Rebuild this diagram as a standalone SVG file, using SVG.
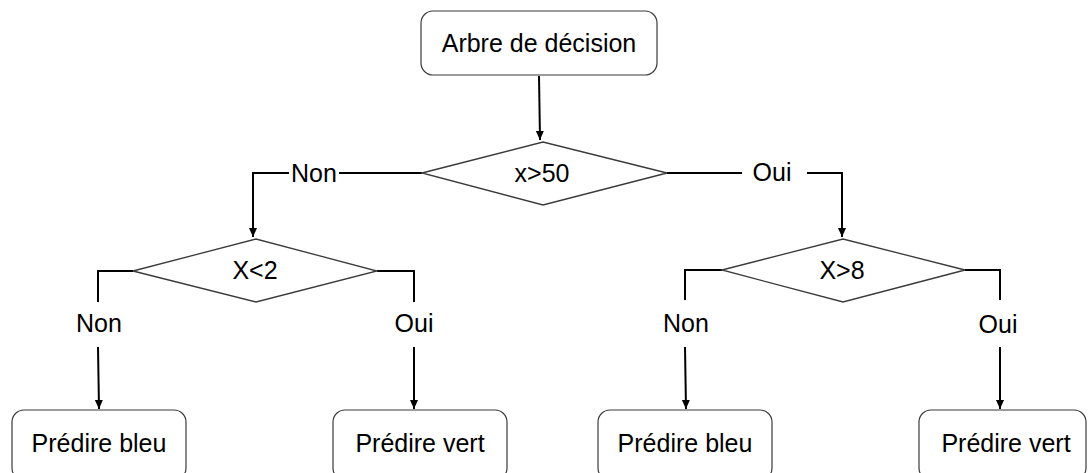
<svg xmlns="http://www.w3.org/2000/svg" width="1088" height="473" viewBox="0 0 1088 473">
<style>
text{font-family:"Liberation Sans",Arial,sans-serif;font-size:25px;fill:#000;text-anchor:middle}
.box{fill:#fff;stroke:#3a3a3a;stroke-width:1.2}
.dia{fill:#fff;stroke:#3a3a3a;stroke-width:1.3}
.c{fill:none;stroke:#000;stroke-width:2}
</style>
<defs>
<marker id="ah" markerUnits="userSpaceOnUse" markerWidth="10" markerHeight="10" refX="9" refY="5" orient="auto">
<path d="M0,1 L9,5 L0,9 z" fill="#000"/>
</marker>
</defs>
<rect width="1088" height="473" fill="#fff"/>
<g id="connectors">
<line class="c" x1="539" y1="76" x2="540" y2="140" marker-end="url(#ah)"/>
<line class="c" x1="422" y1="173" x2="339" y2="173"/>
<polyline class="c" points="289,173 253,173 253,237" marker-end="url(#ah)"/>
<line class="c" x1="667" y1="173" x2="742" y2="173"/>
<polyline class="c" points="807,173 842,173 842,237" marker-end="url(#ah)"/>
<polyline class="c" points="133,271 98,271 98,302"/>
<line class="c" x1="98" y1="347" x2="99" y2="409" marker-end="url(#ah)"/>
<polyline class="c" points="377,271 414,271 414,302"/>
<line class="c" x1="414" y1="347" x2="414" y2="409" marker-end="url(#ah)"/>
<polyline class="c" points="722,270 685,270 685,300"/>
<line class="c" x1="685" y1="347" x2="686" y2="409" marker-end="url(#ah)"/>
<polyline class="c" points="965,270 1000,270 1000,300"/>
<line class="c" x1="1000" y1="347" x2="1000" y2="409" marker-end="url(#ah)"/>
<text x="314" y="182">Non</text>
<text x="772" y="181">Oui</text>
<text x="99" y="332">Non</text>
<text x="414" y="332">Oui</text>
<text x="686" y="332">Non</text>
<text x="998" y="333">Oui</text>
</g>
<g id="root">
<rect class="box" x="421" y="11" width="236" height="64" rx="12"/>
<text x="539" y="52">Arbre de décision</text>
</g>
<g id="d1">
<polygon class="dia" points="422,173 543,142 667,173 543,205"/>
<text x="542" y="182">x&gt;50</text>
</g>
<g id="d2">
<polygon class="dia" points="133,271 256,239 377,271 256,302"/>
<text x="255" y="279">X&lt;2</text>
</g>
<g id="d3">
<polygon class="dia" points="722,270 843,239 965,270 843,302"/>
<text x="842" y="279">X&gt;8</text>
</g>
<g id="leaf1">
<rect class="box" x="12" y="410" width="174" height="70" rx="12"/>
<text x="99" y="452">Prédire bleu</text>
</g>
<g id="leaf2">
<rect class="box" x="333" y="410" width="174" height="70" rx="12"/>
<text x="420" y="452">Prédire vert</text>
</g>
<g id="leaf3">
<rect class="box" x="598" y="410" width="174" height="70" rx="12"/>
<text x="685" y="452">Prédire bleu</text>
</g>
<g id="leaf4">
<rect class="box" x="919" y="410" width="167" height="70" rx="12"/>
<text x="1006" y="452">Prédire vert</text>
</g>
</svg>
